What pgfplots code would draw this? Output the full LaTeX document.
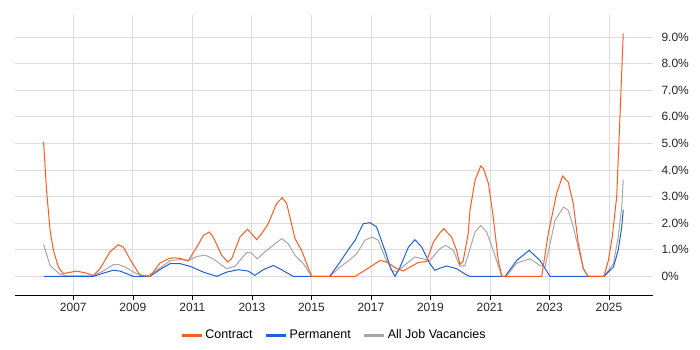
\documentclass[border=0pt]{standalone}
\usepackage{fontspec}
\setmainfont{Liberation Sans}
\usepackage{pgfplots}
\pgfplotsset{compat=1.18}
\definecolor{contractc}{RGB}{255,90,31}
\definecolor{permc}{RGB}{30,95,220}
\definecolor{allc}{RGB}{166,166,166}
\definecolor{gridc}{RGB}{220,220,220}

\begin{document}
\begin{tikzpicture}[x=1pt,y=1pt]
\useasboundingbox (-15,-55) rectangle (685,295);
\begin{axis}[
    at={(0,0)}, anchor=south west,
    scale only axis, width=638pt, height=280pt,
    xmin=2005.04, xmax=2026.48,
    ymin=-0.70, ymax=9.83,
    axis x line=bottom, axis y line=right,
    x axis line style={-, black},
    y axis line style={draw=none},
    xtick={2007,2009,...,2025},
    ytick={0,1,...,9},
    yticklabels={0\%,1.0\%,2.0\%,3.0\%,4.0\%,5.0\%,6.0\%,7.0\%,8.0\%,9.0\%},
    xticklabel style={/pgf/number format/1000 sep=},
    ytick style={draw=none},
    xtick style={black},
    tick align=outside, major tick length=5pt,
    xmajorgrids, ymajorgrids,
    grid style={gridc, line width=0.8pt},
    ticklabel style={font=\fontsize{12}{14}\selectfont, text=black!85},
    /pgf/number format/assume math mode=true,
    legend image code/.code={\draw[#1, line width=3pt] (0pt,0pt) -- (20pt,0pt);},
    legend style={at={(0.5,0)}, anchor=center, yshift=-40pt, draw=none,
        legend columns=-1, font=\fontsize{12.5}{14}\selectfont,
        /tikz/every even column/.append style={column sep=10pt}},
]
\addlegendimage{contractc}
\addlegendentry{Contract}
\addlegendimage{permc}
\addlegendentry{Permanent}
\addlegendimage{allc}
\addlegendentry{All Job Vacancies}

\addplot[allc, line width=1pt, forget plot] coordinates {
(2006.00,1.20)(2006.22,0.41)(2006.55,0.08)(2006.78,0.02)(2007.67,0.02)(2008.00,0.20)
(2008.34,0.44)(2008.51,0.45)(2008.74,0.35)(2009.13,0.10)(2009.46,0)(2009.80,0.23)
(2010.19,0.54)(2010.25,0.60)(2010.59,0.63)(2010.86,0.60)(2011.15,0.75)(2011.43,0.80)
(2011.70,0.66)(2012.15,0.29)(2012.43,0.38)(2012.83,0.90)(2012.99,0.88)(2013.18,0.66)
(2013.50,0.98)(2013.78,1.23)(2014.00,1.42)(2014.22,1.23)(2014.45,0.79)(2014.73,0.48)
(2015.01,0)(2015.62,0)(2015.96,0.35)(2016.30,0.63)(2016.52,0.85)(2016.80,1.36)
(2017.03,1.48)(2017.25,1.36)(2017.47,0.73)(2017.70,0.23)(2017.87,0.16)(2018.20,0.48)
(2018.48,0.73)(2018.76,0.66)(2018.98,0.60)(2019.32,1.04)(2019.51,1.17)(2019.77,0.98)
(2019.99,0.38)(2020.16,0.41)(2020.50,1.67)(2020.69,1.91)(2020.89,1.67)(2021.11,0.98)
(2021.40,0)(2021.55,0)(2021.90,0.50)(2022.35,0.66)(2022.68,0.41)(2022.85,0.35)
(2023.19,2.11)(2023.47,2.61)(2023.63,2.49)(2023.80,1.86)(2024.14,0.29)(2024.30,0)
(2024.83,0)(2025.15,0.48)(2025.31,1.48)(2025.43,2.61)(2025.48,3.64)
};
\addplot[permc, line width=1pt, forget plot] coordinates {
(2006.00,0)(2007.67,0)(2008.00,0.12)(2008.34,0.23)(2008.57,0.20)(2009.02,0)(2009.58,0)
(2009.90,0.25)(2010.19,0.44)(2010.25,0.48)(2010.59,0.48)(2010.92,0.38)(2011.37,0.16)
(2011.82,0)(2012.15,0.16)(2012.54,0.25)(2012.88,0.20)(2013.10,0.04)(2013.38,0.25)
(2013.72,0.41)(2014.00,0.25)(2014.39,0)(2015.62,0)(2015.96,0.54)(2016.30,1.10)
(2016.47,1.36)(2016.74,1.98)(2016.97,2.02)(2017.19,1.86)(2017.47,0.98)(2017.67,0.29)
(2017.81,0)(2017.98,0.35)(2018.26,1.10)(2018.48,1.38)(2018.71,1.10)(2018.98,0.48)
(2019.15,0.23)(2019.32,0.31)(2019.55,0.39)(2019.88,0.29)(2020.22,0.05)(2020.33,0)
(2021.51,0)(2021.90,0.60)(2022.32,0.98)(2022.68,0.60)(2023.02,0)(2024.83,0)
(2025.15,0.35)(2025.31,0.98)(2025.43,1.86)(2025.48,2.51)
};
\addplot[contractc, line width=1pt, forget plot] coordinates {
(2006.00,5.06)(2006.10,3.24)(2006.22,1.73)(2006.33,0.98)(2006.50,0.35)(2006.66,0.10)
(2006.78,0.13)(2007.11,0.20)(2007.45,0.12)(2007.67,0.03)(2007.90,0.29)(2008.23,0.92)
(2008.51,1.19)(2008.68,1.10)(2008.96,0.54)(2009.24,0.04)(2009.58,0)(2009.91,0.50)
(2010.19,0.66)(2010.36,0.70)(2010.59,0.68)(2010.86,0.58)(2011.15,1.10)(2011.37,1.54)
(2011.57,1.67)(2011.70,1.48)(2011.99,0.79)(2012.19,0.54)(2012.32,0.66)(2012.60,1.48)
(2012.85,1.77)(2012.99,1.61)(2013.16,1.38)(2013.33,1.61)(2013.55,1.98)(2013.83,2.74)
(2014.02,2.96)(2014.17,2.74)(2014.45,1.42)(2014.67,0.98)(2014.84,0.48)(2015.01,0)
(2016.47,0)(2016.97,0.35)(2017.31,0.60)(2017.53,0.54)(2017.87,0.29)(2018.09,0.20)
(2018.31,0.35)(2018.59,0.52)(2018.87,0.56)(2019.10,1.29)(2019.32,1.64)(2019.46,1.80)
(2019.55,1.67)(2019.71,1.48)(2019.88,0.98)(2019.99,0.45)(2020.10,0.57)(2020.27,1.61)
(2020.33,2.49)(2020.50,3.62)(2020.69,4.15)(2020.78,4.06)(2020.95,3.49)(2021.11,2.24)
(2021.28,0.60)(2021.40,0)(2022.74,0)(2022.96,1.61)(2023.24,3.11)(2023.44,3.77)
(2023.63,3.55)(2023.80,2.74)(2023.97,1.23)(2024.14,0.29)(2024.30,0)(2024.83,0)
(2024.98,0.60)(2025.11,1.48)(2025.26,3.00)(2025.37,6.00)(2025.48,9.14)
};
\end{axis}
\end{tikzpicture}
\end{document}
